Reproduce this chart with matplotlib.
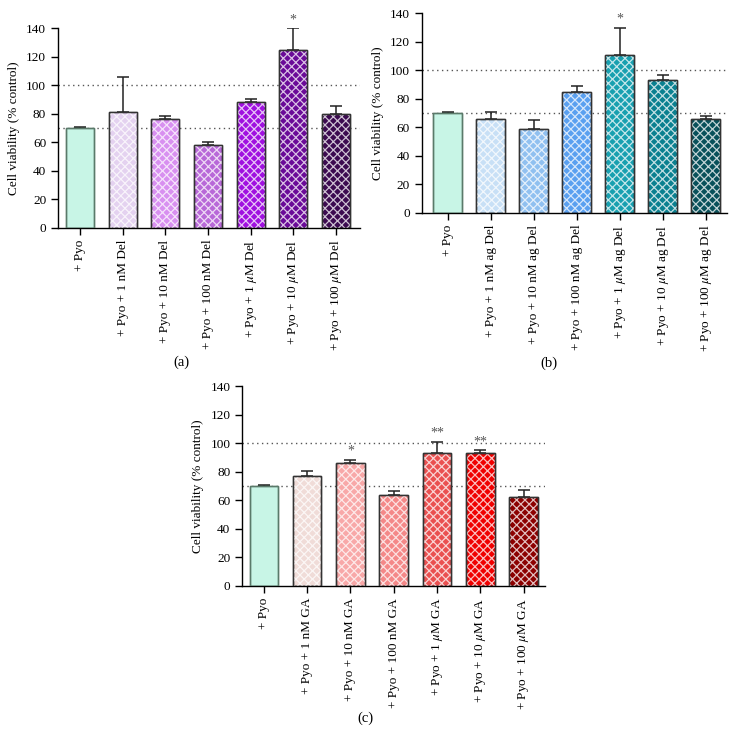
import matplotlib
matplotlib.use("Agg")
from matplotlib import pyplot
import numpy as np

pyplot.rcParams["font.family"] = ["Liberation Serif", "DejaVu Serif"]
pyplot.rcParams["mathtext.fontset"] = "stix"
pyplot.rcParams["hatch.linewidth"] = 0.9

# panel (a): Del
labels_a = ["+ Pyo", "+ Pyo + 1 nM Del", "+ Pyo + 10 nM Del", "+ Pyo + 100 nM Del",
            "+ Pyo + 1 $\\mu$M Del", "+ Pyo + 10 $\\mu$M Del", "+ Pyo + 100 $\\mu$M Del"]
mean_a = [70, 81.2, 76.5, 58, 88, 124.4, 80]
err_a = [0.5, 24.3, 1.8, 2.1, 2.5, 15.5, 5.4]
stars_a = ["", "", "", "", "", "*", ""]
colors_a = ["#c8f5e6", "#e4d2f0", "#d890f0", "#b868d8", "#a010e0", "#6a0a98", "#3c0a50"]

# panel (b): ag Del
labels_b = ["+ Pyo", "+ Pyo + 1 nM ag Del", "+ Pyo + 10 nM ag Del", "+ Pyo + 100 nM ag Del",
            "+ Pyo + 1 $\\mu$M ag Del", "+ Pyo + 10 $\\mu$M ag Del", "+ Pyo + 100 $\\mu$M ag Del"]
mean_b = [70, 65.8, 58.8, 84.7, 110.6, 93.1, 65.8]
err_b = [0.5, 4.9, 6.3, 4.0, 18.9, 3.7, 1.9]
stars_b = ["", "", "", "", "*", "", ""]
colors_b = ["#c8f5e6", "#c8e0f6", "#90c0f0", "#5aa0f0", "#18a0b0", "#0a8090", "#08505a"]

# panel (c): GA
labels_c = ["+ Pyo", "+ Pyo + 1 nM GA", "+ Pyo + 10 nM GA", "+ Pyo + 100 nM GA",
            "+ Pyo + 1 $\\mu$M GA", "+ Pyo + 10 $\\mu$M GA", "+ Pyo + 100 $\\mu$M GA"]
mean_c = [70, 77.2, 86.3, 63.9, 93.1, 93.1, 62]
err_c = [0.5, 3.1, 1.9, 2.8, 7.7, 1.9, 5.4]
stars_c = ["", "", "*", "", "**", "**", ""]
colors_c = ["#c8f5e6", "#f0dcd8", "#f8a8a8", "#f48888", "#ea5050", "#f00000", "#8c0000"]

fig = pyplot.figure(figsize=(7.36, 7.46), dpi=100)


def panel(rect, xlim, labels, mean, err, stars, cols, tag, tagpos):
    ax = fig.add_axes(rect)
    x = np.arange(len(mean))
    ax.axhline(100, color="#555555", ls=(0, (1, 2.5)), lw=1.0, zorder=0)
    ax.axhline(70, color="#555555", ls=(0, (1, 2.5)), lw=1.0, zorder=0)
    edges = ["#5a7a6a"] + ["#333333"] * (len(mean) - 1)
    ax.bar(x, mean, width=0.66, color=cols, edgecolor=edges, linewidth=1.0, zorder=2)
    for i in range(1, len(mean)):
        ax.bar(x[i], mean[i], width=0.66, fill=False, edgecolor=(1, 1, 1, 0.75),
               linewidth=0, hatch="xxxx", zorder=3)
    # redraw outline on top of hatch
    ax.bar(x, mean, width=0.66, fill=False, edgecolor=edges, linewidth=1.0, zorder=4)
    ax.errorbar(x, mean, yerr=[np.zeros(len(err)), err], fmt="none", ecolor="#222222",
                elinewidth=1.1, capsize=4.5, capthick=1.1, zorder=1)
    for i, s in enumerate(stars):
        if s:
            ax.text(x[i], mean[i] + err[i] + 1.5, s, ha="center", va="bottom",
                    fontsize=10, color="#555555")
    ax.set_xlim(*xlim)
    ax.set_ylim(0, 140)
    ax.set_yticks(np.arange(0, 141, 20))
    ax.set_xticks(x)
    ax.set_xticklabels(labels, rotation=90, fontsize=9.5)
    ax.tick_params(axis="y", labelsize=9.5, direction="out", length=5, width=1.0)
    ax.tick_params(axis="x", direction="out", length=5, width=1.0)
    ax.spines["top"].set_visible(False)
    ax.spines["right"].set_visible(False)
    ax.spines["left"].set_linewidth(1.0)
    ax.spines["bottom"].set_linewidth(1.0)
    ax.set_ylabel("Cell viability (% control)", fontsize=9.5)
    ax.yaxis.set_label_coords(-0.125, 0.5)
    fig.text(tagpos[0], tagpos[1], tag, ha="center", va="center", fontsize=10.5)
    return ax


panel([0.0788, 0.6944, 0.410, 0.268], (-0.52, 6.56), labels_a, mean_a, err_a, stars_a,
      colors_a, "(a)", (0.247, 0.515))
panel([0.573, 0.7145, 0.415, 0.268], (-0.6, 6.5), labels_b, mean_b, err_b, stars_b,
      colors_b, "(b)", (0.746, 0.513))
panel([0.329, 0.2145, 0.412, 0.268], (-0.5, 6.5), labels_c, mean_c, err_c, stars_c,
      colors_c, "(c)", (0.496, 0.0375))

pyplot.savefig("out.png", dpi=100)
